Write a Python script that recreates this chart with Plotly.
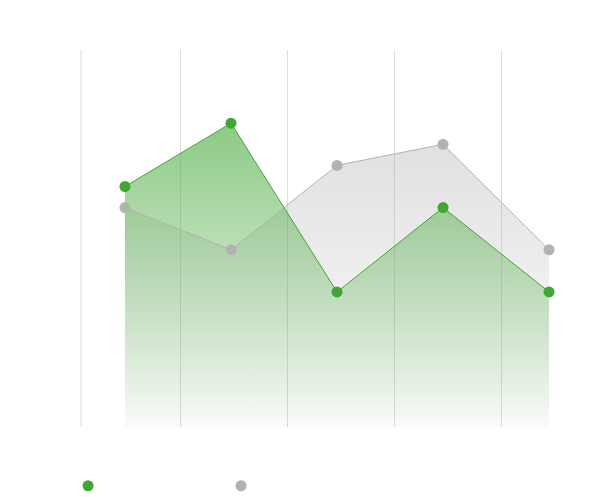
import plotly.graph_objects as go

# dados
categorias = [0, 1, 2, 3, 4]
serie_verde = [13, 16, 8, 12, 8]
serie_cinza = [12, 10, 14, 15, 10]

verde = "rgb(64,166,52)"
cinza = "rgb(178,178,178)"
y_min, y_max = 1.6, 19.47

fig = go.Figure()

# áreas (cinza primeiro, verde por cima)
fig.add_trace(go.Scatter(
    x=categorias, y=serie_cinza, mode="none",
    fill="tozeroy",
    fillgradient=dict(
        type="vertical", start=y_min, stop=max(serie_cinza),
        colorscale=[[0, "rgba(170,170,170,0.02)"], [1, "rgba(170,170,170,0.36)"]],
    ),
    showlegend=False,
))
fig.add_trace(go.Scatter(
    x=categorias, y=serie_verde, mode="none",
    fill="tozeroy",
    fillgradient=dict(
        type="vertical", start=y_min, stop=max(serie_verde),
        colorscale=[[0, "rgba(64,166,52,0.02)"], [1, "rgba(64,166,52,0.6)"]],
    ),
    showlegend=False,
))

# linhas e pontos por cima das áreas
fig.add_trace(go.Scatter(
    x=categorias, y=serie_cinza, mode="lines+markers",
    line=dict(color=cinza, width=1),
    marker=dict(color=cinza, size=11),
    showlegend=False,
))
fig.add_trace(go.Scatter(
    x=categorias, y=serie_verde, mode="lines+markers",
    line=dict(color=verde, width=1),
    marker=dict(color=verde, size=11),
    showlegend=False,
))

# legenda só com os marcadores
for cor in [verde, cinza]:
    fig.add_trace(go.Scatter(
        x=[None], y=[None], mode="markers", name=" ",
        marker=dict(color=cor, size=11),
    ))

# bordas verticais do gráfico
for borda in [0, 0.998]:
    fig.add_shape(type="line", xref="paper", yref="paper",
                  x0=borda, x1=borda, y0=0, y1=1,
                  line=dict(color="#dddddd", width=1), layer="below")

# a página tem 8px de margem no body
fig.update_layout(
    width=589, height=489,
    margin=dict(l=73, r=1, t=42, b=70),
    paper_bgcolor="white", plot_bgcolor="white",
    legend=dict(
        orientation="h", x=0.102, xref="container", y=0.023, yref="container",
        yanchor="middle", entrywidth=108, entrywidthmode="pixels",
    ),
)
fig.update_xaxes(
    range=[-0.415, 4.443], tickvals=[0.52, 1.53, 2.54, 3.55],
    showticklabels=False, ticks="", showgrid=True, gridcolor="#dddddd",
    zeroline=False, showline=False,
)
fig.update_yaxes(
    range=[y_min, y_max], showticklabels=False, showgrid=False,
    zeroline=False, showline=False,
)

fig.write_html("out.html")
